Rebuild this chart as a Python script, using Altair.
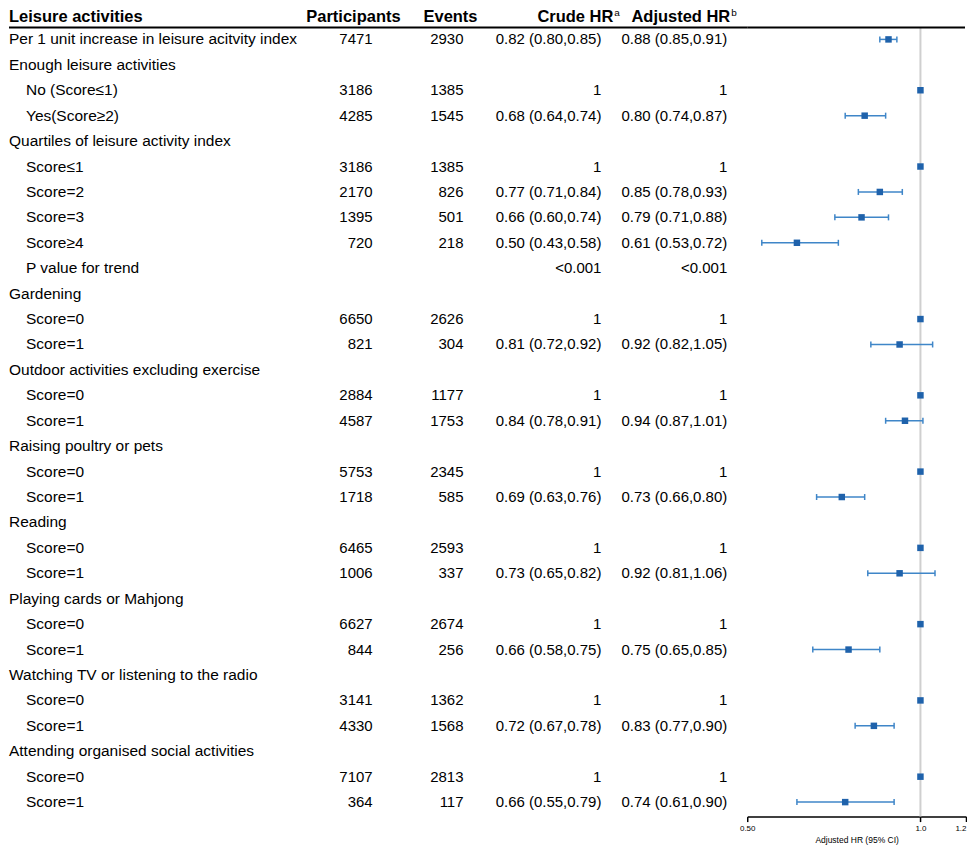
import altair as alt
import pandas as pd

FONT = "Liberation Sans, Arial, sans-serif"

labels = [
    "Per 1 unit increase in leisure acitvity index",
    "Enough leisure activities", "No (Score≤1)", "Yes(Score≥2)",
    "Quartiles of leisure activity index", "Score≤1", "Score=2", "Score=3", "Score≥4", "P value for trend",
    "Gardening", "Score=0", "Score=1",
    "Outdoor activities excluding exercise", "Score=0", "Score=1",
    "Raising poultry or pets", "Score=0", "Score=1",
    "Reading", "Score=0", "Score=1",
    "Playing cards or Mahjong", "Score=0", "Score=1",
    "Watching TV or listening to the radio", "Score=0", "Score=1",
    "Attending organised social activities", "Score=0", "Score=1",
]
indent = [0, 0, 1, 1, 0, 1, 1, 1, 1, 1, 0, 1, 1, 0, 1, 1, 0, 1, 1, 0, 1, 1, 0, 1, 1, 0, 1, 1, 0, 1, 1]
participants = ["7471", "", "3186", "4285", "", "3186", "2170", "1395", "720", "", "", "6650", "821", "",
                "2884", "4587", "", "5753", "1718", "", "6465", "1006", "", "6627", "844", "", "3141", "4330",
                "", "7107", "364"]
events = ["2930", "", "1385", "1545", "", "1385", "826", "501", "218", "", "", "2626", "304", "",
          "1177", "1753", "", "2345", "585", "", "2593", "337", "", "2674", "256", "", "1362", "1568",
          "", "2813", "117"]
crude = ["0.82 (0.80,0.85)", "", "1", "0.68 (0.64,0.74)", "", "1", "0.77 (0.71,0.84)", "0.66 (0.60,0.74)",
         "0.50 (0.43,0.58)", "<0.001", "", "1", "0.81 (0.72,0.92)", "", "1", "0.84 (0.78,0.91)", "", "1",
         "0.69 (0.63,0.76)", "", "1", "0.73 (0.65,0.82)", "", "1", "0.66 (0.58,0.75)", "", "1",
         "0.72 (0.67,0.78)", "", "1", "0.66 (0.55,0.79)"]
adjusted = ["0.88 (0.85,0.91)", "", "1", "0.80 (0.74,0.87)", "", "1", "0.85 (0.78,0.93)", "0.79 (0.71,0.88)",
            "0.61 (0.53,0.72)", "<0.001", "", "1", "0.92 (0.82,1.05)", "", "1", "0.94 (0.87,1.01)", "", "1",
            "0.73 (0.66,0.80)", "", "1", "0.92 (0.81,1.06)", "", "1", "0.75 (0.65,0.85)", "", "1",
            "0.83 (0.77,0.90)", "", "1", "0.74 (0.61,0.90)"]
hr = [0.88, None, 1.0, 0.80, None, 1.0, 0.85, 0.79, 0.61, None, None, 1.0, 0.92, None, 1.0, 0.94, None, 1.0,
      0.73, None, 1.0, 0.92, None, 1.0, 0.75, None, 1.0, 0.83, None, 1.0, 0.74]
lo = [0.85, None, None, 0.74, None, None, 0.78, 0.71, 0.53, None, None, None, 0.82, None, None, 0.87, None, None,
      0.66, None, None, 0.81, None, None, 0.65, None, None, 0.77, None, None, 0.61]
hi = [0.91, None, None, 0.87, None, None, 0.93, 0.88, 0.72, None, None, None, 1.05, None, None, 1.01, None, None,
      0.80, None, None, 1.06, None, None, 0.85, None, None, 0.90, None, None, 0.90]
x_ticks = [0.5, 1.0, 1.2]

rows = list(range(1, len(labels) + 1))
df = pd.DataFrame({"row": rows, "label": labels, "indent": indent, "participants": participants,
                   "events": events, "crude": crude, "adjusted": adjusted, "hr": hr, "lo": lo, "hi": hi})

# layout (pixels within the chart)
ROW = 25.45
FIRST = 31
H = 809
HDR_Y = 9
LINE_Y = 19
d0 = 1 - FIRST / ROW
d1 = d0 + H / ROW
TW = 739
FW = 219
yscale = alt.Scale(domain=[d0, d1], reverse=True, nice=False, zero=False)
Y = alt.Y("row:Q", scale=yscale, axis=None)


def col(field, x, align, size=15, filt=None):
    c = alt.Chart(df)
    if filt:
        c = c.transform_filter(filt)
    return c.mark_text(align=align, baseline="middle", font=FONT, fontSize=size, color="black").encode(
        x=alt.value(x), y=Y, text=f"{field}:N")


hdr_df = pd.DataFrame({"k": [0]})


def hdr(text, x, align, size=16.5, dy=0, bold=True):
    return alt.Chart(hdr_df).mark_text(align=align, baseline="middle", font=FONT, fontSize=size,
                                       fontWeight="bold" if bold else "normal", color="black", dy=dy).encode(
        x=alt.value(x), y=alt.value(HDR_Y), text=alt.value(text))


table = alt.layer(
    hdr("Leisure activities", 0, "left"),
    hdr("Participants", 392, "right"),
    hdr("Events", 469, "right"),
    hdr("Crude HR", 605, "right"),
    hdr("a", 606, "left", size=10, dy=-4, bold=False),
    hdr("Adjusted HR", 722, "right"),
    hdr("b", 723, "left", size=10, dy=-4, bold=False),
    alt.Chart(hdr_df).mark_rule(color="black", strokeWidth=2).encode(
        x=alt.value(0), x2=alt.value(TW), y=alt.value(LINE_Y)),
    col("label", 0, "left", 15.5, "datum.indent == 0"),
    col("label", 17, "left", 15.5, "datum.indent == 1"),
    col("participants", 364, "right"),
    col("events", 455, "right"),
    col("crude", 593, "right"),
    col("adjusted", 719, "right"),
).properties(width=TW, height=H)

xscale = alt.Scale(type="log", domain=[0.5, 1.2], nice=False)
xaxis = alt.Axis(values=x_ticks, labelExpr="datum.value == 0.5 ? '0.50' : format(datum.value, '.1f')",
                 labelAlign={"condition": {"test": "datum.value > 1.1", "value": "right"}, "value": "center"},
                 title="Adjusted HR (95% CI)", grid=False, domainColor="black", tickColor="black",
                 domainWidth=1.5, tickWidth=1.5, tickSize=5, labelFontSize=8, titleFontSize=8.5,
                 titleFontWeight="normal", labelFont=FONT, titleFont=FONT, labelColor="black",
                 titleColor="black", labelPadding=3, titlePadding=3, labelFlush=False)

SQ = "#1f62ab"
LN = "#3f86c8"
ref_df = pd.DataFrame({"ref": [1.0]})
pts = alt.Chart(df).transform_filter("isValid(datum.hr)")
cis = alt.Chart(df).transform_filter("isValid(datum.lo)")
cap = "M0,-1L0,1"

forest = alt.layer(
    alt.Chart(ref_df).mark_rule(color="#cfcfcf", strokeWidth=2).encode(
        x=alt.X("ref:Q", scale=xscale, axis=xaxis), y=alt.value(LINE_Y), y2=alt.value(H)),
    alt.Chart(hdr_df).mark_rule(color="black", strokeWidth=2).encode(
        x=alt.value(0), x2=alt.value(FW - 1), y=alt.value(LINE_Y)),
    cis.mark_rule(color=LN, strokeWidth=1.5).encode(x=alt.X("lo:Q", scale=xscale), x2="hi:Q", y=Y),
    cis.mark_point(shape=cap, size=36, filled=False, color=LN, strokeWidth=1.5, opacity=1).encode(
        x=alt.X("lo:Q", scale=xscale), y=Y),
    cis.mark_point(shape=cap, size=36, filled=False, color=LN, strokeWidth=1.5, opacity=1).encode(
        x=alt.X("hi:Q", scale=xscale), y=Y),
    pts.mark_square(size=42, color=SQ, opacity=1).encode(x=alt.X("hr:Q", scale=xscale), y=Y),
).properties(width=FW, height=H)

chart = alt.hconcat(table, forest, spacing=0, bounds="flush").properties(padding=0).configure_view(stroke=None)

chart.save("out.html", embed_options={"renderer": "svg", "actions": False})
